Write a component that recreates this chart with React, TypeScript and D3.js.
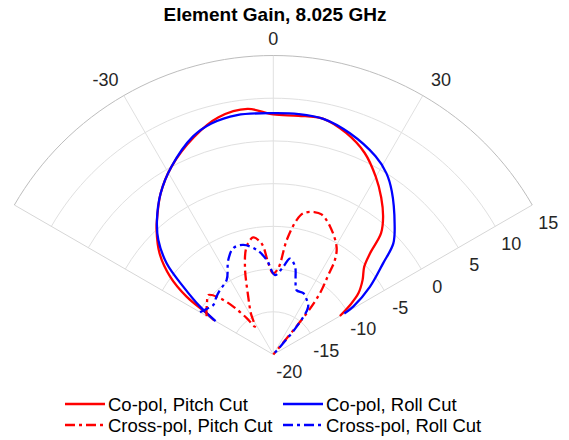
import React from 'react';
import * as d3 from 'd3';

const chartTitle = 'Element Gain, 8.025 GHz';
const thetaGrid = [-60, -30, 0, 30, 60];
const thetaTickLabels = [-30, 0, 30];
const rTicks = [-20, -15, -10, -5, 0, 5, 10, 15];

// Co-pol, Pitch Cut
const coPitchTheta = [-60, -58.3, -56.3, -53, -48.4, -43.1, -40.9, -35, -28.5, -20, -13, -6, 0, 6, 12, 18.2, 24.4, 30, 34.5, 38.6, 41.6, 43.7, 46, 50.2, 54.2, 57.2, 60];
const coPitchGain = [-12, -10.8, -7.8, -4.9, -2.2, 0.0, 0.8, 3.0, 5.0, 7.1, 8.5, 8.9, 8.1, 8.1, 8.2, 7.3, 5.9, 4.0, 2.3, 0.6, -1.0, -3.6, -5.2, -6.4, -7.7, -9.3, -11];

// Co-pol, Roll Cut
const coRollTheta = [-60, -56.9, -53, -49.5, -45.1, -40.9, -35, -28.5, -20.2, -15, -8.6, 0, 6, 12, 19.1, 27.3, 32, 36, 42.8, 47.2, 50.3, 55, 59.1, 60];
const coRollGain = [-12.2, -9.8, -6.8, -3.6, -1.0, 0.8, 3.0, 5.0, 7.2, 8.0, 8.35, 8.25, 8.3, 8.2, 7.4, 6.1, 5.0, 3.6, 0.9, -0.85, -3.3, -6.2, -9.1, -10.4];

// Cross-pol, Pitch Cut
const xPitchTheta = [-60, -58.3, -52.4, -47.5, -43.5, -39.9, -36, -33.4, -28.5, -23.4, -17.9, -13.9, -9.8, -7, -5.3, -3.1, 0, 3.3, 6.7, 9.9, 12, 16, 19, 23.9, 30.5, 33.1, 34.7, 37.3, 39, 40.5];
const xPitchGain = [-11, -10.8, -10.2, -9.7, -10.9, -12.7, -14.8, -16.1, -14.5, -12.6, -9.2, -7.0, -6.1, -6.6, -7.3, -9.3, -10.5, -9.9, -6.5, -4.0, -3.1, -2.65, -2.65, -3.6, -5.4, -6.8, -8.7, -11, -13.8, -21];

// Cross-pol, Roll Cut
const xRollTheta = [-60, -55, -50.5, -44.4, -39.6, -32, -25.5, -20.6, -15.3, -9, -4, 1.2, 6.5, 9.8, 13.9, 16.5, 19.9, 26.1, 31.5, 36.2, 40, 42];
const xRollGain = [-10.1, -10.6, -10.9, -10.5, -10.2, -9.7, -7.75, -6.7, -6.7, -7.6, -8.9, -10.7, -9.65, -8.6, -9.4, -10.8, -12.0, -12.0, -12.5, -13.1, -15.75, -21];

const seriesNames = ['Co-pol, Pitch Cut', 'Co-pol, Roll Cut', 'Cross-pol, Pitch Cut', 'Cross-pol, Roll Cut'];

const W = 569;
const H = 440;
const cx = 273.3;
const cy = 354.5;
const R = 299;
const DASHDOT = '10 4 3 4';

const series = [
  { name: seriesNames[0], theta: coPitchTheta, gain: coPitchGain, color: '#ff0000', dash: undefined },
  { name: seriesNames[1], theta: coRollTheta, gain: coRollGain, color: '#0000ff', dash: undefined },
  { name: seriesNames[2], theta: xPitchTheta, gain: xPitchGain, color: '#ff0000', dash: DASHDOT },
  { name: seriesNames[3], theta: xRollTheta, gain: xRollGain, color: '#0000ff', dash: DASHDOT },
];

const rad = (d: number) => (d * Math.PI) / 180;

export default function App() {
  const r = d3.scaleLinear().domain([-20, 15]).range([0, R]).clamp(true);
  const line = d3
    .lineRadial<[number, number]>()
    .angle((d) => rad(d[0]))
    .radius((d) => r(d[1]))
    .curve(d3.curveCatmullRom.alpha(0.5));

  const arcPath = (v: number) => {
    const p = d3.path();
    p.arc(0, 0, r(v), rad(-60 - 90), rad(60 - 90), false);
    return p.toString();
  };
  const pt = (theta: number, rr: number) => [rr * Math.sin(rad(theta)), -rr * Math.cos(rad(theta))];

  const font = 'Liberation Sans, Arial, Helvetica, sans-serif';
  const legendPos = [
    { x: 65, y: 404 },
    { x: 283, y: 404 },
    { x: 65, y: 425 },
    { x: 283, y: 425 },
  ];

  return (
    <svg width={W} height={H} style={{ position: 'absolute', left: 0, top: 0, background: '#fff' }} fontFamily={font}>
      <rect width={W} height={H} fill="#fff" />
      <text x={275} y={21} textAnchor="middle" fontWeight="bold" fontSize={19} fill="#000">
        {chartTitle}
      </text>
      <g transform={`translate(${cx},${cy})`}>
        {rTicks.slice(1, -1).map((v) => (
          <path key={'c' + v} d={arcPath(v)} fill="none" stroke="#e0e0e0" strokeWidth={1} />
        ))}
        {thetaGrid.map((t) => {
          const [x, y] = pt(t, R);
          const edge = Math.abs(t) === 60;
          return <line key={'s' + t} x1={0} y1={0} x2={x} y2={y} stroke={edge ? '#d6d6d6' : '#e0e0e0'} strokeWidth={1} />;
        })}
        <path d={arcPath(15)} fill="none" stroke="#bdbdbd" strokeWidth={1} />
        {thetaTickLabels.map((t) => {
          const [x, y] = pt(t, R + 16.5);
          const dx = t === 0 ? 0 : Math.sign(t) * 10;
          const dy = t === 0 ? 0 : -1.5;
          return (
            <text key={'tl' + t} x={x + dx} y={y + dy} textAnchor="middle" dominantBaseline="central" fontSize={18} fill="#262626">
              {t}
            </text>
          );
        })}
        {rTicks.map((v) => {
          const [x, y] = pt(60, r(v));
          return (
            <text key={'rl' + v} x={x + 16} y={y + 17.5} textAnchor="middle" dominantBaseline="central" fontSize={18} fill="#262626">
              {v}
            </text>
          );
        })}
        {series.map((s) => {
          const data = s.theta.map((t, i) => [t, s.gain[i]] as [number, number]);
          return (
            <path
              key={s.name}
              d={line(data) || ''}
              fill="none"
              stroke={s.color}
              strokeWidth={2.3}
              strokeDasharray={s.dash}
              strokeLinejoin="round"
            />
          );
        })}
      </g>
      {series.map((s, i) => {
        const p = legendPos[i];
        return (
          <g key={'lg' + i}>
            <line x1={p.x} y1={p.y} x2={p.x + 40} y2={p.y} stroke={s.color} strokeWidth={2.3} strokeDasharray={s.dash} />
            <text x={p.x + 43} y={p.y} dominantBaseline="central" fontSize={18.5} fill="#000">
              {s.name}
            </text>
          </g>
        );
      })}
    </svg>
  );
}
